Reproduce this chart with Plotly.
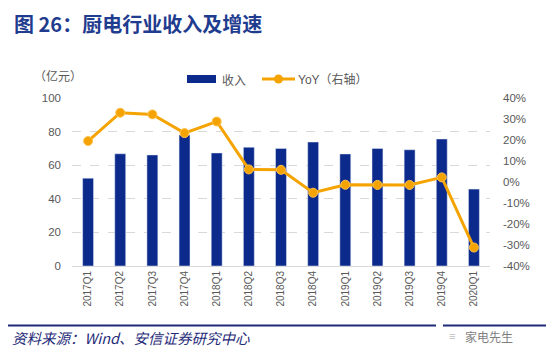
import plotly.graph_objects as go

categories = ["2017Q1", "2017Q2", "2017Q3", "2017Q4", "2018Q1", "2018Q2", "2018Q3",
              "2018Q4", "2019Q1", "2019Q2", "2019Q3", "2019Q4", "2020Q1"]
revenue = [52.3, 66.8, 66.1, 78.0, 67.3, 70.7, 70.0, 73.8, 66.7, 70.0, 69.2, 75.6, 45.8]
yoy = [19.5, 33.0, 32.2, 23.3, 28.8, 6.0, 5.8, -5.1, -1.3, -1.4, -1.4, 2.2, -31.2]
left_ticks = [0, 20, 40, 60, 80, 100]
right_ticks = [-40, -30, -20, -10, 0, 10, 20, 30, 40]

W, H = 550, 359
L, R, T, B = 72, 490, 98, 266
def px(x):
    return (x - L) / (R - L)
def py(y):
    return (B - y) / (B - T)

BAR = "#0C2A8C"
ORANGE = "#F5A300"
NAVY = "#1F2B78"
GRAY = "#595959"
FONT = "Liberation Sans, Noto Sans CJK SC, sans-serif"
CJK = "Noto Sans CJK SC, sans-serif"

fig = go.Figure()
fig.add_trace(go.Bar(x=categories, y=revenue, name="收入", marker_color=BAR,
                     width=0.34, showlegend=False))
fig.add_trace(go.Scatter(x=categories, y=yoy, name="YoY（右轴）", yaxis="y2",
                         mode="lines+markers", showlegend=False,
                         line=dict(color=ORANGE, width=3),
                         marker=dict(size=9, color=ORANGE,
                                     line=dict(color="#FFC24D", width=1))))

fig.update_layout(
    width=W, height=H,
    margin=dict(l=L, r=W - R, t=T, b=H - B, pad=0),
    paper_bgcolor="white", plot_bgcolor="white",
    font=dict(family=FONT, color=GRAY),
    xaxis=dict(type="category", tickangle=-90, tickfont=dict(size=10, color=GRAY),
               showgrid=False, showline=True, linecolor="#D9D9D9", linewidth=1,
               ticks="", range=[-0.5, 12.5]),
    yaxis=dict(range=[0, 100], tickvals=left_ticks, tickfont=dict(size=11.5, color=GRAY),
               showgrid=True, gridcolor="#D9D9D9", griddash="dash", gridwidth=1,
               zeroline=False, ticks="", ticklabelstandoff=10),
    yaxis2=dict(range=[-40, 40], overlaying="y", side="right", tickvals=right_ticks,
                ticktext=[f"{v}%" for v in right_ticks],
                tickfont=dict(size=11.5, color=GRAY), showgrid=False, zeroline=False,
                ticks="", ticklabelstandoff=12),
)

shapes = []
annotations = []
# title
annotations.append(dict(text="<b>图 26：厨电行业收入及增速</b>", xref="paper", yref="paper",
                        x=px(12), y=py(23), xanchor="left", yanchor="middle", showarrow=False,
                        font=dict(family=CJK, size=20, color="#1F3C8F")))
# unit label
annotations.append(dict(text="（亿元）", xref="paper", yref="paper", x=px(58), y=py(75),
                        xanchor="center", yanchor="middle", showarrow=False,
                        font=dict(family=CJK, size=12, color=GRAY)))
# legend
shapes.append(dict(type="rect", xref="paper", yref="paper", x0=px(187), x1=px(216),
                   y0=py(83), y1=py(75), fillcolor=BAR, line=dict(width=0)))
annotations.append(dict(text="收入", xref="paper", yref="paper", x=px(220), y=py(79),
                        xanchor="left", yanchor="middle", showarrow=False,
                        font=dict(family=CJK, size=12, color=GRAY)))
shapes.append(dict(type="line", xref="paper", yref="paper", x0=px(262), x1=px(295),
                   y0=py(79), y1=py(79), line=dict(color=ORANGE, width=3)))
shapes.append(dict(type="circle", xref="paper", yref="paper", x0=px(274), x1=px(283),
                   y0=py(83.5), y1=py(74.5), fillcolor=ORANGE, line=dict(width=0)))
annotations.append(dict(text="YoY（右轴）", xref="paper", yref="paper", x=px(296), y=py(79),
                        xanchor="left", yanchor="middle", showarrow=False,
                        font=dict(family=FONT, size=12, color=GRAY)))
# footer lines
shapes.append(dict(type="line", xref="paper", yref="paper", x0=px(8), x1=px(436),
                   y0=py(325.5), y1=py(325.5), line=dict(color=NAVY, width=2)))
shapes.append(dict(type="line", xref="paper", yref="paper", x0=px(443), x1=px(546),
                   y0=py(325.5), y1=py(325.5), line=dict(color=NAVY, width=2)))
annotations.append(dict(text="<i>资料来源：Wind、安信证券研究中心</i>", xref="paper", yref="paper",
                        x=px(10), y=py(337), xanchor="left", yanchor="middle", showarrow=False,
                        font=dict(family=CJK, size=14.5, color=NAVY)))
annotations.append(dict(text="家电先生", xref="paper", yref="paper",
                        x=px(463), y=py(336), xanchor="left", yanchor="middle", showarrow=False,
                        font=dict(family=CJK, size=12, color="#7F7F7F")))
annotations.append(dict(text="≡", xref="paper", yref="paper",
                        x=px(452), y=py(336), xanchor="center", yanchor="middle", showarrow=False,
                        font=dict(family=FONT, size=11, color="#BFBFBF")))

fig.update_layout(shapes=shapes, annotations=annotations)
fig.write_html("out.html", config={"displayModeBar": False},
               post_script="document.body.style.margin='0';document.body.style.overflow='hidden';")
